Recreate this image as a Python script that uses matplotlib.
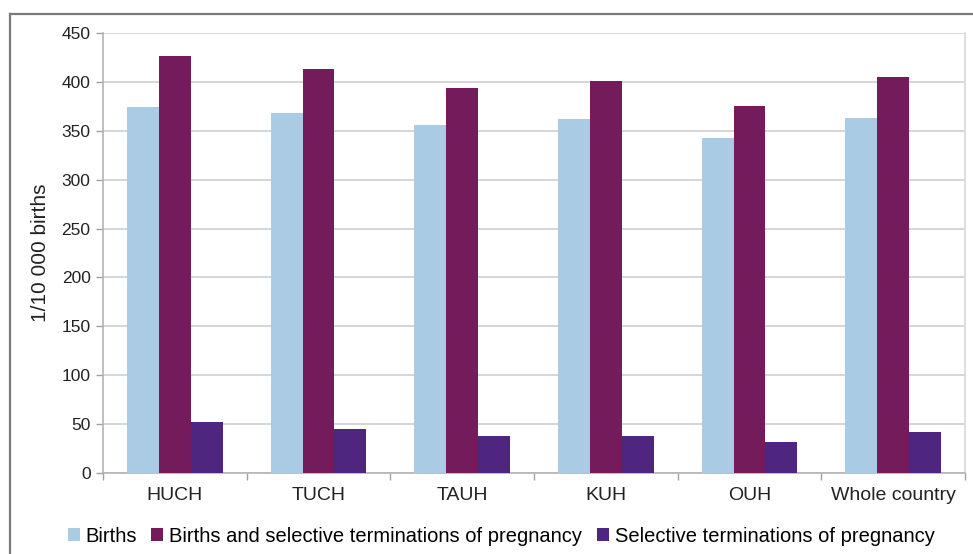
import matplotlib
matplotlib.use("Agg")
import matplotlib.pyplot as plt
from matplotlib.lines import Line2D
import numpy as np

plt.rcParams['font.family'] = ['Liberation Sans', 'DejaVu Sans']

categories = ["HUCH", "TUCH", "TAUH", "KUH", "OUH", "Whole country"]
births = [374, 368, 356, 362, 343, 363]
births_and_terminations = [427, 413, 394, 401, 375, 405]
selective_terminations = [52, 45, 38, 38, 32, 42]
series_labels = ["Births",
                 "Births and selective terminations of pregnancy",
                 "Selective terminations of pregnancy"]
colors = ["#a9cce4", "#731b5b", "#4e2680"]
y_ticks = [0, 50, 100, 150, 200, 250, 300, 350, 400, 450]

fig = plt.figure(figsize=(9.73, 5.54), dpi=100)
ax = fig.add_axes([0.1059, 0.1462, 0.9918 - 0.1059, 0.9404 - 0.1462])

x = np.arange(len(categories))
w = 1 / 4.5
for i, (vals, lab, col) in enumerate(zip([births, births_and_terminations, selective_terminations],
                                         series_labels, colors)):
    ax.bar(x + (i - 1) * w, vals, width=w, color=col, label=lab, zorder=3)

ax.set_xlim(-0.5, len(categories) - 0.5)
ax.set_ylim(0, 450)
ax.set_yticks(y_ticks)
ax.set_yticklabels([str(t) for t in y_ticks], fontsize=12.5, color="#222222")
ax.set_xticks(x)
ax.set_xticklabels(categories, fontsize=14, color="#222222")
ax.set_xticks(np.arange(len(categories) + 1) - 0.5, minor=True)
ax.tick_params(axis="x", which="major", length=0, pad=10)
ax.tick_params(axis="x", which="minor", length=5, color="#a0a0a0", width=1)
ax.tick_params(axis="y", length=5, color="#a0a0a0", width=1, pad=4)

ax.grid(axis="y", color="#d2d2d2", linewidth=1.3, zorder=0)
for side in ["left", "bottom", "right"]:
    ax.spines[side].set_color("#b4b4b4")
    ax.spines[side].set_linewidth(1.2)
ax.spines["right"].set_color("#d8d8d8")
ax.spines["top"].set_visible(False)

ax.set_ylabel("1/10 000 births", fontsize=15, color="#222222", labelpad=8)

fig.legend(loc="center", bbox_to_anchor=(0.515, 0.032), ncol=3, frameon=False,
           fontsize=14.5, handlelength=0.6, handleheight=0.6, handletextpad=0.3,
           columnspacing=0.7)

# outer chart frame
fig.add_artist(Line2D([9.5 / 973, 1.0], [1 - 14 / 554, 1 - 14 / 554],
                      transform=fig.transFigure, color="#7a7a7a", linewidth=1.6))
fig.add_artist(Line2D([9.5 / 973, 9.5 / 973], [0.0, 1 - 14 / 554],
                      transform=fig.transFigure, color="#7a7a7a", linewidth=1.6))

fig.savefig("out.png", dpi=100, facecolor="white")
